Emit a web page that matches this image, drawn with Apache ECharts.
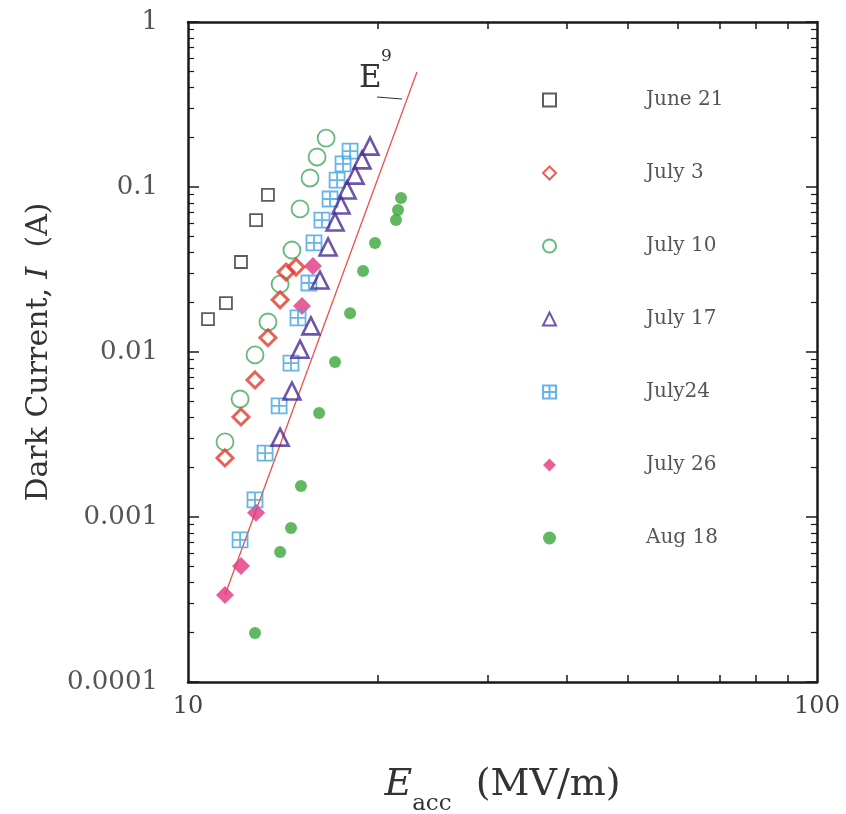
<!DOCTYPE html>
<html>
<head>
<meta charset="utf-8">
<script src="https://cdn.jsdelivr.net/npm/echarts@6/dist/echarts.min.js"></script>
<style>html,body{margin:0;padding:0;background:#fff;}#c{width:846px;height:814px;}</style>
</head>
<body>
<div id="c"></div>
<script>
// ---- data (E_acc in MV/m, dark current in A) ----
const june21 = [[10.76,0.0158],[11.49,0.0198],[12.14,0.0351],[12.83,0.063],[13.40,0.0895]];
const july3 = [[11.45,0.00228],[12.14,0.00404],[12.78,0.00677],[13.40,0.0122],[14.01,0.0207],[14.32,0.0305],[14.85,0.0327]];
const july10 = [[11.45,0.00285],[12.10,0.00519],[12.78,0.0096],[13.40,0.0152],[14.01,0.0258],[14.63,0.0415],[15.07,0.0736],[15.63,0.1134],[16.04,0.152],[16.58,0.198]];
const july17 = [[14.01,0.00305],[14.63,0.0058],[15.07,0.0104],[15.68,0.0144],[16.21,0.0273],[16.70,0.0433],[17.13,0.0614],[17.51,0.0778],[17.90,0.096],[18.43,0.118],[18.91,0.146],[19.47,0.177]];
const july24 = [[12.10,0.000726],[12.78,0.00127],[13.26,0.00244],[13.96,0.00471],[14.58,0.00857],[14.96,0.0161],[15.57,0.0262],[15.86,0.0458],[16.33,0.063],[16.82,0.0846],[17.26,0.110],[17.64,0.138],[18.10,0.165]];
const july26 = [[11.45,0.000337],[12.14,0.000505],[12.83,0.00106],[15.18,0.019],[15.80,0.0332]];
const aug18 = [[12.78,0.000198],[14.01,0.000614],[14.58,0.000858],[15.12,0.00154],[16.16,0.00427],[17.13,0.0087],[18.10,0.0172],[18.98,0.031],[19.83,0.0458],[21.41,0.063],[21.57,0.0726],[21.81,0.0858]];
const e9Line = [[11.45,0.000337],[23.12,0.498]];
const seriesNames = ['June 21','July 3','July 10','July 17','July24','July 26','Aug 18'];
const xTickLabels = ['10','100'];
const yTickLabels = ['1','0.1','0.01','0.001','0.0001'];
const xMinorTicks = [20,30,40,50,60,70,80,90];
const yMinorTicks = [];
[0.0001,0.001,0.01,0.1].forEach(d=>{for(let k=2;k<=9;k++) yMinorTicks.push(+(d*k).toPrecision(3));});

const serif = 'DejaVu Serif';
const axisColor = '#1a1a1a';

function xAx(opts){
  return Object.assign({
    type:'log', logBase:10, min:10, max:100, position:'bottom',
    axisLine:{show:true, lineStyle:{color:axisColor, width:2.5}},
    axisTick:{show:false}, axisLabel:{show:false}, splitLine:{show:false}, minorTick:{show:false}
  }, opts);
}
function yAx(opts){
  return Object.assign({
    type:'log', logBase:10, min:0.0001, max:1, position:'left',
    axisLine:{show:true, lineStyle:{color:axisColor, width:2.5}},
    axisTick:{show:false}, axisLabel:{show:false}, splitLine:{show:false}, minorTick:{show:false}
  }, opts);
}

const gridPath = 'path://M0,0H10V10H0Z M5,0V10 M0,5H10';

const chart = echarts.init(document.getElementById('c'), null, {renderer:'canvas'});
chart.setOption({
  backgroundColor:'#fff',
  animation:false,
  grid:{left:188, right:29, top:22, bottom:132, containLabel:false, outerBoundsMode:'none'},
  legend:{
    orient:'vertical', left:542, top:90, padding:0, itemWidth:13, itemHeight:13, itemGap:53,
    data:seriesNames,
    textStyle:{fontFamily:serif, fontSize:20, color:'#555', padding:[0,0,0,85], lineHeight:20}
  },
  xAxis:[
    xAx({
      axisLabel:{show:true, margin:13, fontFamily:serif, fontSize:24, color:'#444',
        formatter:v=> (v<30? xTickLabels[0] : xTickLabels[1])},
      name:'{i|E}{s|acc}{n|  (MV/m)}', nameLocation:'middle', nameGap:82,
      nameTextStyle:{fontFamily:serif, color:'#333', rich:{
        i:{fontFamily:serif, fontStyle:'italic', fontSize:38, color:'#333', verticalAlign:'bottom', lineHeight:40},
        s:{fontFamily:serif, fontSize:23, color:'#333', verticalAlign:'bottom', padding:[0,0,-12,0], lineHeight:40},
        n:{fontFamily:serif, fontSize:38, color:'#333', verticalAlign:'bottom', lineHeight:40}
      }}
    }),
    xAx({axisLine:{show:false}, axisTick:{show:true, inside:true, length:7, customValues:xMinorTicks, lineStyle:{color:axisColor, width:1.5}}}),
    xAx({position:'top', axisTick:{show:true, inside:true, length:7, customValues:xMinorTicks, lineStyle:{color:axisColor, width:1.5}}})
  ],
  yAxis:[
    yAx({
      axisTick:{show:true, inside:true, length:11, lineStyle:{color:axisColor, width:1.5}},
      axisLabel:{show:true, margin:30, fontFamily:serif, fontSize:26, color:'#555',
        formatter:v=> yTickLabels[Math.round(-Math.log10(v))]},
      name:'Dark Current, {i|I}  (A)', nameLocation:'middle', nameGap:134, nameRotate:90,
      nameTextStyle:{fontFamily:serif, fontSize:30, color:'#333', rich:{
        i:{fontFamily:serif, fontStyle:'italic', fontSize:30, color:'#333'}
      }}
    }),
    yAx({axisLine:{show:false}, axisTick:{show:true, inside:true, length:6, customValues:yMinorTicks, lineStyle:{color:axisColor, width:1.2}}}),
    yAx({position:'right', axisTick:{show:true, inside:true, length:11, lineStyle:{color:axisColor, width:1.5}}}),
    yAx({position:'right', axisLine:{show:false}, axisTick:{show:true, inside:true, length:6, customValues:yMinorTicks, lineStyle:{color:axisColor, width:1.2}}})
  ],
  series:[
    {name:'E9', type:'line', data:e9Line, symbol:'none', lineStyle:{color:'#e8524a', width:1.3}, z:1, silent:true},
    {name:'June 21', type:'scatter', data:june21, symbol:'rect', symbolSize:12,
      itemStyle:{color:'rgba(255,255,255,0)', borderColor:'#333', borderWidth:1.8}, z:3},
    {name:'July 3', type:'scatter', data:july3, symbol:'diamond', symbolSize:16,
      itemStyle:{color:'rgba(255,255,255,0)', borderColor:'#e43a2c', borderWidth:3}, z:4},
    {name:'July 10', type:'scatter', data:july10, symbol:'circle', symbolSize:17,
      itemStyle:{color:'rgba(255,255,255,0)', borderColor:'#3fa85a', borderWidth:1.8}, z:3},
    {name:'July 17', type:'scatter', data:july17, symbol:'triangle', symbolSize:17,
      itemStyle:{color:'rgba(255,255,255,0)', borderColor:'#4a2a96', borderWidth:2.6}, z:5},
    {name:'July24', type:'scatter', data:july24, symbol:gridPath, symbolSize:15,
      itemStyle:{color:'rgba(255,255,255,0)', borderColor:'#3ea2e2', borderWidth:1.8}, z:4},
    {name:'July 26', type:'scatter', data:july26, symbol:'diamond', symbolSize:18,
      itemStyle:{color:'#e2367e'}, z:2},
    {name:'Aug 18', type:'scatter', data:aug18, symbol:'circle', symbolSize:12,
      itemStyle:{color:'#3aa63a'}, z:3}
  ],
  graphic:[
    {type:'text', left:359, top:63, style:{text:'E', font:'31px "DejaVu Serif"', fill:'#333'}},
    {type:'text', left:381, top:48, style:{text:'9', font:'17px "DejaVu Serif"', fill:'#333'}},
    {type:'line', shape:{x1:377, y1:97, x2:402, y2:99}, style:{stroke:'#333', lineWidth:1.2}}
  ]
});
</script>
</body>
</html>
